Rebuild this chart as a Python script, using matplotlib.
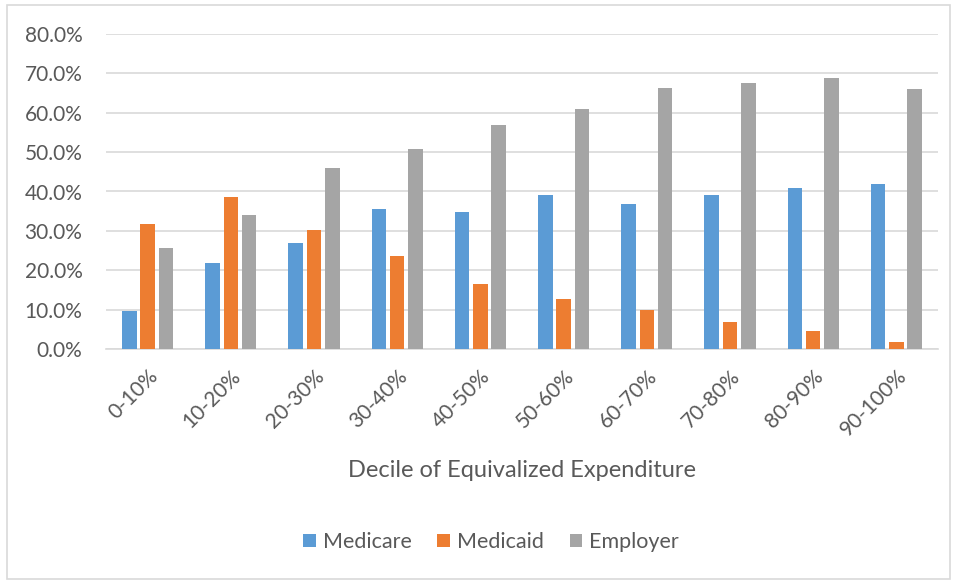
import numpy as np
import matplotlib
matplotlib.use("Agg")
import matplotlib.pyplot as plt
from matplotlib.patches import Rectangle

# Data
deciles = ["0-10%", "10-20%", "20-30%", "30-40%", "40-50%",
           "50-60%", "60-70%", "70-80%", "80-90%", "90-100%"]
medicare = [9.8, 21.8, 26.9, 35.6, 34.9, 39.2, 36.8, 39.0, 40.9, 41.9]
medicaid = [31.8, 38.6, 30.2, 23.6, 16.6, 12.8, 10.0, 6.8, 4.6, 1.9]
employer = [25.8, 34.0, 46.0, 50.8, 56.9, 60.9, 66.2, 67.5, 68.7, 66.0]
y_ticks = [0, 10, 20, 30, 40, 50, 60, 70, 80]

plt.rcParams['font.family'] = ['Lato', 'DejaVu Sans']
text_col = '#595959'

fig = plt.figure(figsize=(9.56, 5.81), dpi=100)
ax = fig.add_axes([106/956, 1 - 349.3/581, 832/956, 315.6/581])

x = np.arange(len(deciles))
w = 0.175
step = 0.22
ax.bar(x - step, medicare, w, color='#5B9BD5', label='Medicare', zorder=3)
ax.bar(x, medicaid, w, color='#ED7D31', label='Medicaid', zorder=3)
ax.bar(x + step, employer, w, color='#A5A5A5', label='Employer', zorder=3)

ax.set_xlim(-0.5, len(deciles) - 0.5)
ax.set_ylim(0, 80)
ax.set_yticks(y_ticks)
ax.set_yticklabels([f"{v:.1f}%" for v in y_ticks])
ax.set_xticks(x)
ax.set_xticklabels(deciles, rotation=45, ha='right', rotation_mode='anchor')
ax.tick_params(axis='both', length=0, colors=text_col, labelsize=15)
ax.tick_params(axis='y', pad=17)
ax.tick_params(axis='x', pad=12)
ax.grid(axis='y', color='#D9D9D9', linewidth=1.2, zorder=0)
for s in ['top', 'right', 'left']:
    ax.spines[s].set_visible(False)
ax.spines['bottom'].set_color('#D9D9D9')
ax.spines['bottom'].set_linewidth(1.2)

ax.set_xlabel("Decile of Equivalized Expenditure", fontsize=17, color=text_col, labelpad=14)

leg = fig.legend(loc='center', bbox_to_anchor=(491/956, 1 - 542/581), ncol=3,
                 frameon=False, fontsize=15.5, handlelength=0.6, handleheight=0.6,
                 handletextpad=0.3, columnspacing=1.2)
for t in leg.get_texts():
    t.set_color(text_col)

# chart border
fig.patches.append(Rectangle((7/956, 2/581), 943/956, 574/581, transform=fig.transFigure,
                             fill=False, edgecolor='#D9D9D9', linewidth=1.2))

fig.savefig("out.png", dpi=100)
